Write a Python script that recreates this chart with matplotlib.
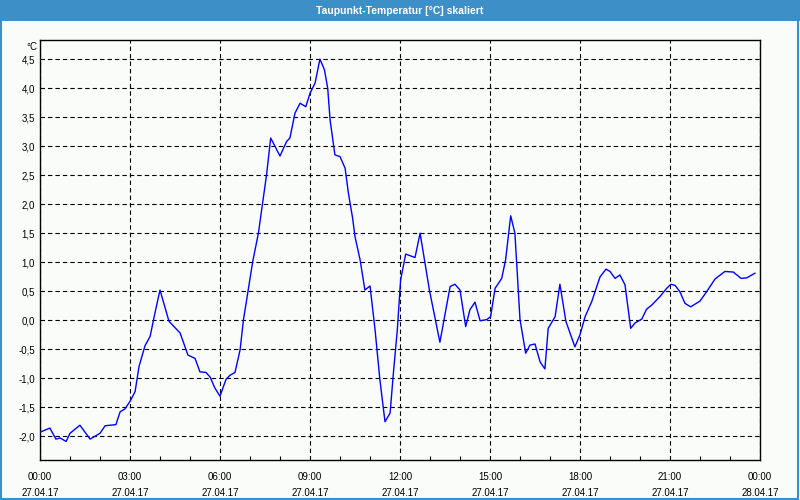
import matplotlib

matplotlib.use("Agg")
import matplotlib.pyplot as plt
from matplotlib.patches import Rectangle
from matplotlib.ticker import FixedLocator, MultipleLocator

# Zeit in Stunden ab 27.04.17 00:00, Taupunkt in °C (skaliert)
hours = [
    0.0, 0.33, 0.53, 0.67, 0.87, 1.0, 1.33, 1.67, 2.0, 2.17, 2.53, 2.67, 2.83,
    3.0, 3.17, 3.3, 3.5, 3.67, 3.83, 4.0, 4.3, 4.67, 4.93, 5.17, 5.33, 5.53,
    5.67, 5.83, 6.0, 6.2, 6.33, 6.5, 6.67, 6.78, 6.94, 7.09, 7.28, 7.42, 7.55,
    7.69, 8.0, 8.22, 8.33, 8.5, 8.67, 8.86, 9.0, 9.17, 9.33, 9.48, 9.59, 9.67,
    9.83, 10.0, 10.17, 10.28, 10.42, 10.5, 10.67, 10.83, 11.0, 11.17, 11.33,
    11.5, 11.67, 11.78, 11.91, 12.02, 12.19, 12.5, 12.67, 12.98, 13.33, 13.67,
    13.83, 14.0, 14.19, 14.33, 14.5, 14.67, 14.89, 15.02, 15.17, 15.39, 15.52,
    15.69, 15.83, 16.0, 16.19, 16.33, 16.5, 16.67, 16.83, 16.94, 17.17, 17.33,
    17.53, 17.83, 18.0, 18.17, 18.39, 18.67, 18.87, 19.0, 19.17, 19.33, 19.5,
    19.69, 19.83, 20.06, 20.22, 20.39, 20.67, 20.89, 21.03, 21.17, 21.33, 21.5,
    21.69, 22.0, 22.22, 22.5, 22.83, 23.11, 23.37, 23.56, 23.83,
]
dewpoint = [
    -1.93, -1.86, -2.05, -2.03, -2.09, -1.95, -1.81, -2.05, -1.95, -1.82, -1.80,
    -1.58, -1.53, -1.40, -1.23, -0.80, -0.44, -0.28, 0.12, 0.52, -0.02, -0.22,
    -0.60, -0.66, -0.89, -0.90, -0.98, -1.17, -1.31, -1.02, -0.95, -0.90, -0.51,
    0.0, 0.52, 1.01, 1.50, 2.02, 2.50, 3.14, 2.83, 3.08, 3.14, 3.57, 3.74, 3.68,
    3.91, 4.09, 4.50, 4.32, 4.0, 3.45, 2.85, 2.82, 2.62, 2.19, 1.76, 1.44, 1.04,
    0.52, 0.59, -0.17, -1.03, -1.75, -1.60, -0.91, -0.17, 0.69, 1.14, 1.08,
    1.50, 0.52, -0.38, 0.58, 0.62, 0.52, -0.11, 0.18, 0.31, -0.01, 0.01, 0.06,
    0.55, 0.72, 1.04, 1.80, 1.50, 0.01, -0.57, -0.43, -0.41, -0.72, -0.84,
    -0.14, 0.06, 0.62, -0.02, -0.46, -0.25, 0.06, 0.32, 0.75, 0.88, 0.84, 0.72,
    0.78, 0.61, -0.14, -0.05, 0.02, 0.19, 0.26, 0.41, 0.55, 0.62, 0.60, 0.49,
    0.29, 0.23, 0.33, 0.49, 0.71, 0.84, 0.83, 0.72, 0.73, 0.81,
]

tick_hours = [0, 3, 6, 9, 12, 15, 18, 21, 24]
tick_times = ["00:00", "03:00", "06:00", "09:00", "12:00", "15:00", "18:00", "21:00", "00:00"]
tick_dates = ["27.04.17"] * 8 + ["28.04.17"]
y_ticks = [-2.0, -1.5, -1.0, -0.5, 0.0, 0.5, 1.0, 1.5, 2.0, 2.5, 3.0, 3.5, 4.0, 4.5]

bg = "#fafcfa"
frame_blue = "#3d8fc7"
font = ["Liberation Sans", "DejaVu Sans"]
plt.rcParams["font.family"] = font

fig = plt.figure(figsize=(8, 5), dpi=100, facecolor=bg)

# Titelleiste und Rahmen
fig.patches.append(Rectangle((0, 0.958), 1, 0.042, transform=fig.transFigure,
                             facecolor=frame_blue, edgecolor="none", zorder=0))
fig.patches.append(Rectangle((0.001, 0.002), 0.997, 0.99, transform=fig.transFigure,
                             facecolor="none", edgecolor=frame_blue, lw=1.5, zorder=1))
fig.text(0.5, 0.979, "Taupunkt-Temperatur [°C] skaliert", color="white",
         ha="center", va="center", fontsize=7.5, fontweight="bold")

ax = fig.add_axes([0.05, 0.08, 0.90, 0.84], facecolor=bg)
ax.plot(hours, dewpoint, color="#0000ff", lw=1.0, zorder=3)

ax.set_xlim(0, 24)
ax.set_ylim(-2.41, 4.83)

ax.xaxis.set_major_locator(FixedLocator(tick_hours))
ax.set_xticklabels([f"{t}\n{d}" for t, d in zip(tick_times, tick_dates)],
                   fontsize=7, linespacing=1.75)
ax.xaxis.set_minor_locator(MultipleLocator(1))
ax.set_yticks(y_ticks)
ax.set_yticklabels([f"{v:.1f}".replace(".", ",") for v in y_ticks], fontsize=7)

ax.tick_params(axis="x", which="major", length=0, pad=8.5)
ax.tick_params(axis="x", which="minor", direction="in", length=3, width=0.8)
ax.tick_params(axis="y", which="major", length=0, pad=3.5)

ax.grid(True, which="major", color="black", lw=0.8, linestyle=(0, (4, 2.7)))
for s in ax.spines.values():
    s.set_color("black")
    s.set_linewidth(1.0)

ax.text(-0.004, 0.995, "°C", transform=ax.transAxes, ha="right", va="top", fontsize=7)

fig.savefig("out.png", dpi=100, facecolor=bg)
